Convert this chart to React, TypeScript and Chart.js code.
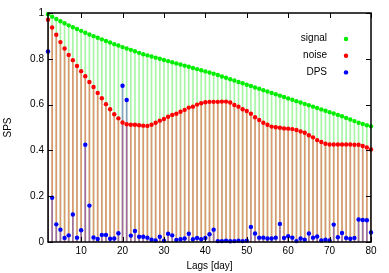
import React, { useEffect, useRef } from "react";
import { Chart, registerables } from "chart.js";

Chart.register(...registerables);

const days = [
  2, 3, 4, 5, 6, 7, 8, 9, 10, 11, 12, 13, 14, 15, 16, 17, 18, 19, 20, 21,
  22, 23, 24, 25, 26, 27, 28, 29, 30, 31, 32, 33, 34, 35, 36, 37, 38, 39, 40, 41,
  42, 43, 44, 45, 46, 47, 48, 49, 50, 51, 52, 53, 54, 55, 56, 57, 58, 59, 60, 61,
  62, 63, 64, 65, 66, 67, 68, 69, 70, 71, 72, 73, 74, 75, 76, 77, 78, 79, 80,
];

const signal = [
  0.995, 0.984, 0.974, 0.964, 0.955, 0.946, 0.938, 0.93, 0.922, 0.914, 0.906, 0.899, 0.892, 0.885, 0.878, 0.871, 0.864, 0.858, 0.851, 0.845,
  0.839, 0.833, 0.826, 0.82, 0.815, 0.81, 0.805, 0.8, 0.795, 0.79, 0.785, 0.78, 0.775, 0.77, 0.765, 0.76, 0.755, 0.75, 0.745, 0.74,
  0.735, 0.729, 0.723, 0.717, 0.711, 0.705, 0.699, 0.693, 0.687, 0.681, 0.675, 0.669, 0.663, 0.657, 0.651, 0.645, 0.639, 0.633, 0.627, 0.621,
  0.615, 0.609, 0.603, 0.597, 0.591, 0.585, 0.579, 0.573, 0.567, 0.561, 0.555, 0.549, 0.542, 0.535, 0.528, 0.521, 0.515, 0.51, 0.505,
];

const noise = [
  0.971, 0.937, 0.905, 0.873, 0.845, 0.817, 0.794, 0.769, 0.746, 0.724, 0.699, 0.677, 0.651, 0.628, 0.602, 0.58, 0.558, 0.54, 0.522, 0.514,
  0.512, 0.512, 0.51, 0.508, 0.507, 0.512, 0.521, 0.53, 0.537, 0.547, 0.555, 0.56, 0.569, 0.577, 0.587, 0.591, 0.6, 0.606, 0.61, 0.612,
  0.612, 0.612, 0.613, 0.613, 0.609, 0.598, 0.591, 0.58, 0.572, 0.56, 0.545, 0.533, 0.521, 0.512, 0.504, 0.501, 0.499, 0.496, 0.495, 0.493,
  0.489, 0.483, 0.477, 0.466, 0.457, 0.445, 0.437, 0.429, 0.426, 0.426, 0.426, 0.426, 0.426, 0.426, 0.425, 0.425, 0.419, 0.413, 0.404,
];

const dps = [
  0.832, 0.193, 0.077, 0.054, 0.018, 0.029, 0.12, 0.019, 0.051, 0.425, 0.159, 0.02, 0.013, 0.031, 0.031, 0.014, 0.015, 0.038, 0.682, 0.62,
  0.028, 0.048, 0.023, 0.023, 0.019, 0.01, 0.007, 0.023, 0.006, 0.036, 0.029, 0.009, 0.012, 0.015, 0.036, 0.012, 0.018, 0.012, 0.018, 0.034,
  0.054, 0.004, 0.004, 0.006, 0.003, 0.004, 0.006, 0.004, 0.006, 0.066, 0.037, 0.019, 0.019, 0.015, 0.015, 0.019, 0.079, 0.018, 0.025, 0.019,
  0.004, 0.015, 0.01, 0.037, 0.019, 0.024, 0.007, 0.01, 0.007, 0.076, 0.021, 0.039, 0.018, 0.014, 0.018, 0.098, 0.096, 0.095, 0.042,
];

const seriesNames = ["signal", "noise", "DPS"];
const xTicks = [10, 20, 30, 40, 50, 60, 70, 80];
const yTicks = [0, 0.2, 0.4, 0.6, 0.8, 1];

const FONT = "'Liberation Sans', Arial, Helvetica, sans-serif";
const pointColors = ["#00ee00", "#ff0000", "#0000ff"];
const impulseColors = ["rgba(0,230,0,0.35)", "rgba(240,115,90,0.72)", "rgba(90,60,220,0.45)"];

export default function App() {
  const ref = useRef<HTMLCanvasElement | null>(null);

  useEffect(() => {
    document.body.style.margin = "0";
    const canvas = ref.current;
    if (!canvas) return;
    const series = [signal, noise, dps];
    const pts = (vals: number[]) => days.map((d, i) => ({ x: d, y: vals[i] }));

    const frame = {
      id: "frame",
      afterDatasetsDraw(chart: any) {
        const { ctx, chartArea } = chart;
        const { left, right, top, bottom } = chartArea;
        const xs = chart.scales.x;
        const ys = chart.scales.y;
        ctx.save();
        ctx.strokeStyle = "#000";
        ctx.lineWidth = 1;
        const tl = 5;
        ctx.beginPath();
        xTicks.forEach((v) => {
          const px = Math.round(xs.getPixelForValue(v)) + 0.5;
          ctx.moveTo(px, bottom);
          ctx.lineTo(px, bottom - tl);
          ctx.moveTo(px, top);
          ctx.lineTo(px, top + tl);
        });
        yTicks.forEach((v) => {
          const py = Math.round(ys.getPixelForValue(v)) + 0.5;
          ctx.moveTo(left, py);
          ctx.lineTo(left + tl, py);
          ctx.moveTo(right, py);
          ctx.lineTo(right - tl, py);
        });
        ctx.stroke();
        ctx.lineWidth = 1.5;
        ctx.strokeRect(left, top, right - left, bottom - top);

        // key
        ctx.font = `10px ${FONT}`;
        ctx.textAlign = "right";
        ctx.textBaseline = "middle";
        seriesNames.forEach((name, i) => {
          const ty = 38.5 + i * 16.7;
          ctx.fillStyle = "#000";
          ctx.fillText(name, 327, ty);
          ctx.fillStyle = pointColors[i];
          ctx.beginPath();
          ctx.arc(346, ty + 0.5, 2.2, 0, Math.PI * 2);
          ctx.fill();
        });
        ctx.restore();
      },
    };

    const datasets: any[] = [];
    series.forEach((vals, i) => {
      datasets.push({
        type: "bar",
        label: seriesNames[i] + " impulses",
        data: pts(vals),
        backgroundColor: impulseColors[i],
        borderWidth: 0,
        barThickness: 1,
        grouped: false,
        order: 10 - i,
      });
    });
    series.forEach((vals, i) => {
      datasets.push({
        type: "scatter",
        label: seriesNames[i],
        data: pts(vals),
        backgroundColor: pointColors[i],
        pointBackgroundColor: pointColors[i],
        borderWidth: 0,
        pointBorderWidth: 0,
        pointRadius: 2.2,
        pointStyle: "circle",
        showLine: false,
        clip: false,
        order: 5 - i,
      });
    });

    const chart = new Chart(canvas, {
      type: "scatter",
      data: { datasets },
      options: {
        responsive: false,
        animation: false,
        devicePixelRatio: 1,
        layout: { padding: { top: 13, right: 18, left: 0, bottom: 0 } },
        plugins: { legend: { display: false }, tooltip: { enabled: false } },
        scales: {
          x: {
            type: "linear",
            min: 2,
            max: 80,
            offset: false,
            grid: { display: false, drawTicks: false },
            border: { display: false },
            afterBuildTicks: (s: any) => {
              s.ticks = xTicks.map((v) => ({ value: v }));
            },
            afterFit: (s: any) => {
              s.height = 31;
            },
            ticks: {
              padding: 3,
              color: "#000",
              maxRotation: 0,
              autoSkip: false,
              font: { family: FONT, size: 10 },
              callback: (v: any) => String(v),
            },
            title: {
              display: true,
              text: "Lags [day]",
              color: "#000",
              font: { family: FONT, size: 10 },
              padding: { top: 0, bottom: 1 },
            },
          },
          y: {
            type: "linear",
            min: 0,
            max: 1,
            grid: { display: false, drawTicks: false },
            border: { display: false },
            afterBuildTicks: (s: any) => {
              s.ticks = yTicks.map((v) => ({ value: v }));
            },
            afterFit: (s: any) => {
              s.width = 48;
            },
            ticks: {
              padding: 4,
              color: "#000",
              autoSkip: false,
              font: { family: FONT, size: 10 },
              callback: (v: any) => String(Math.round(Number(v) * 10) / 10),
            },
            title: {
              display: true,
              text: "SPS",
              color: "#000",
              font: { family: FONT, size: 10 },
              padding: { top: 2, bottom: 0 },
            },
          },
        },
      },
      plugins: [frame],
    } as any);

    return () => chart.destroy();
  }, []);

  return (
    <div style={{ position: "fixed", left: 0, top: 0, width: 389, height: 273 }}>
      <canvas ref={ref} width={389} height={273} style={{ display: "block", width: 389, height: 273 }} />
    </div>
  );
}
